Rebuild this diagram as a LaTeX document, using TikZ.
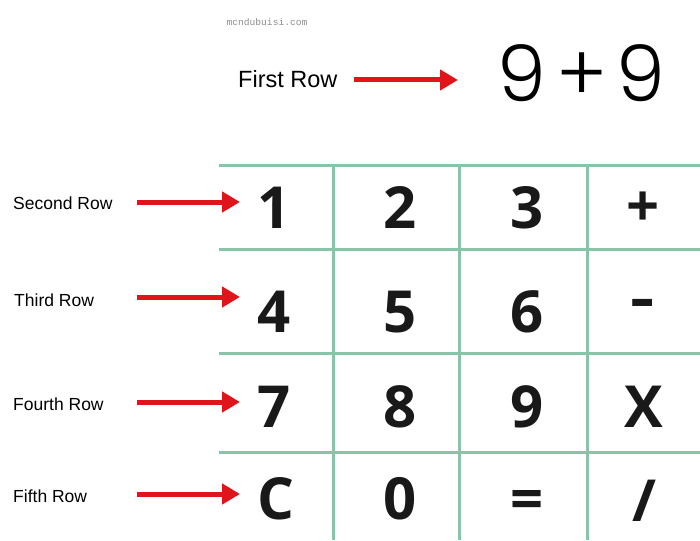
\documentclass[tikz,border=0pt]{standalone}
\usepackage{fontspec}
\usetikzlibrary{arrows.meta}
\setmainfont{Liberation Sans}
\newfontfamily\digitfont{Open Sans}
\newfontfamily\monofont{Liberation Mono}
\IfFontExistsTF{Poppins Light}{\newfontfamily\lightfont{Poppins Light}}{\newfontfamily\lightfont{Lato Light}}
\definecolor{gridgreen}{HTML}{86C5A8}
\definecolor{arrowred}{HTML}{E0141B}
\begin{document}
\begin{tikzpicture}[x=1pt,y=-1pt,
  gridline/.style={draw=gridgreen,line width=3pt},
  redarrow/.style={draw=arrowred,line width=5pt,-{Triangle[length=18pt,width=20pt]}},
  rowlabel/.style={anchor=west,inner sep=0pt,font=\fontsize{17.5}{20}\selectfont},
  key/.style={anchor=base,inner sep=0pt,font=\digitfont\bfseries\fontsize{58}{58}\selectfont,text=black!90}]
\useasboundingbox (0,0) rectangle (700,540);
\fill[white] (0,0) rectangle (700,540);
% watermark
\node[inner sep=0pt,text=black!45,font=\monofont\fontsize{9.6}{10}\selectfont] (wm) at (267,22) {mcndubuisi.com};
% first row
\node[anchor=base west,inner sep=0pt,font=\fontsize{23.5}{26}\selectfont] (l1) at (238,88) {First Row};
\node[anchor=base,inner sep=0pt,font=\lightfont\fontsize{78}{78}\selectfont] (d1) at (522,102) {9};
\node[anchor=base,inner sep=0pt,font=\lightfont\fontsize{78}{78}\selectfont] (plus) at (582,102) {+};
\node[anchor=base,inner sep=0pt,font=\lightfont\fontsize{78}{78}\selectfont] (d2) at (641,102) {9};
\coordinate (a1s) at (354,80);
\coordinate (a1e) at (458,80);
\draw[redarrow] (a1s) -- (a1e);
% grid
\foreach \y in {165,249,353,452} \draw[gridline] (219,\y) -- (700,\y);
\foreach \x in {333,459,587} \draw[gridline] (\x,165) -- (\x,540);
% row labels
\node[rowlabel] (l2) at (13,203) {Second Row};
\node[rowlabel] (l3) at (14,300) {Third Row};
\node[rowlabel] (l4) at (13,404) {Fourth Row};
\node[rowlabel] (l5) at (13,496) {Fifth Row};
\coordinate (a2s) at (137,202); \coordinate (a2e) at (240,202);
\coordinate (a3s) at (137,297); \coordinate (a3e) at (240,297);
\coordinate (a4s) at (137,402); \coordinate (a4e) at (240,402);
\coordinate (a5s) at (137,494); \coordinate (a5e) at (240,494);
\draw[redarrow] (a2s) -- (a2e);
\draw[redarrow] (a3s) -- (a3e);
\draw[redarrow] (a4s) -- (a4e);
\draw[redarrow] (a5s) -- (a5e);
% keys
\node[key] (k1) at (274,228) {1};
\node[key] (k2) at (400,228) {2};
\node[key] (k3) at (527,228) {3};
\node[key] (kplus) at (643,226) {+};
\node[key] (k4) at (274,332) {4};
\node[key] (k5) at (400,332) {5};
\node[key] (k6) at (527,332) {6};
\node[key,xscale=1.3] (kminus) at (643,318) {-};
\node[key] (k7) at (274,427) {7};
\node[key] (k8) at (400,427) {8};
\node[key] (k9) at (527,427) {9};
\node[key] (kx) at (644,427) {X};
\node[key] (kc) at (276,519) {C};
\node[key] (k0) at (400,519) {0};
\node[key] (keq) at (527,519) {=};
\node[key] (kdiv) at (644,521) {/};
\end{tikzpicture}
\end{document}
